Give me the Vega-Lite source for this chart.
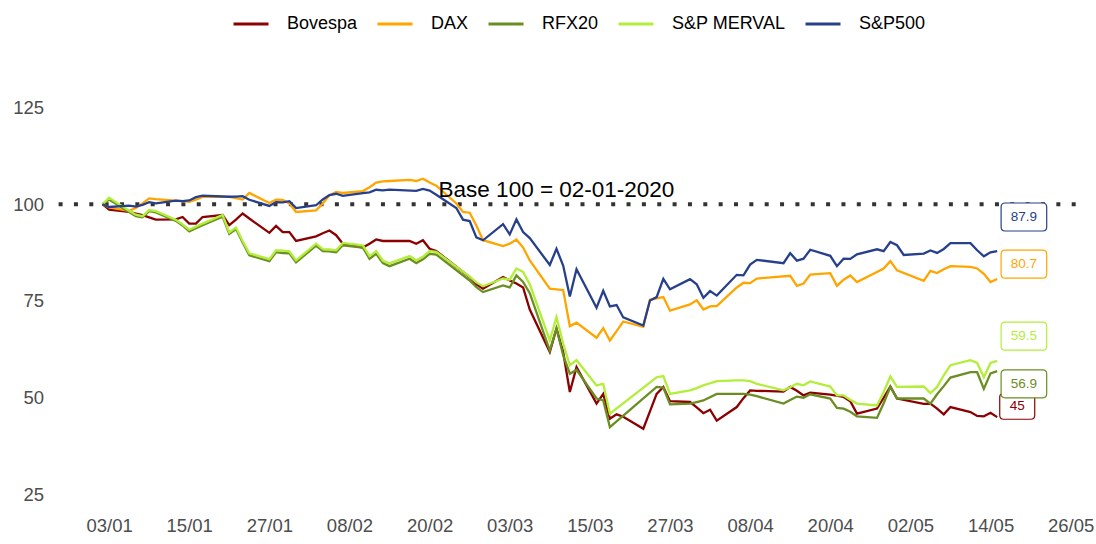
{
  "$schema": "https://vega.github.io/schema/vega-lite/v6.json",
  "width": 1035,
  "height": 449,
  "autosize": {"type": "none"},
  "padding": {"left": 49, "top": 61, "right": 12, "bottom": 34},
  "background": "white",
  "config": {
    "font": "Liberation Sans",
    "view": {"stroke": null},
    "axis": {"grid": false, "domain": false, "ticks": false, "tickSize": 0, "labelFont": "Liberation Sans", "labelFontSize": 18.5, "labelColor": "#4D4D4D", "title": null}
  },
  "datasets": {
    "series": [
      {"s":"Bovespa","d":"2020-01-02","v":100},{"s":"Bovespa","d":"2020-01-03","v":98.6},{"s":"Bovespa","d":"2020-01-06","v":98.0},{"s":"Bovespa","d":"2020-01-07","v":97.6},{"s":"Bovespa","d":"2020-01-08","v":97.2},{"s":"Bovespa","d":"2020-01-09","v":96.6},{"s":"Bovespa","d":"2020-01-10","v":96.0},{"s":"Bovespa","d":"2020-01-13","v":96.1},{"s":"Bovespa","d":"2020-01-14","v":96.7},{"s":"Bovespa","d":"2020-01-15","v":95.0},{"s":"Bovespa","d":"2020-01-16","v":95.0},{"s":"Bovespa","d":"2020-01-17","v":96.7},{"s":"Bovespa","d":"2020-01-20","v":97.2},{"s":"Bovespa","d":"2020-01-21","v":94.6},{"s":"Bovespa","d":"2020-01-22","v":96.0},{"s":"Bovespa","d":"2020-01-23","v":97.6},{"s":"Bovespa","d":"2020-01-24","v":96.3},{"s":"Bovespa","d":"2020-01-27","v":92.6},{"s":"Bovespa","d":"2020-01-28","v":94.4},{"s":"Bovespa","d":"2020-01-29","v":92.8},{"s":"Bovespa","d":"2020-01-30","v":92.8},{"s":"Bovespa","d":"2020-01-31","v":90.5},
      {"s":"Bovespa","d":"2020-02-03","v":91.7},{"s":"Bovespa","d":"2020-02-04","v":92.5},{"s":"Bovespa","d":"2020-02-05","v":93.2},{"s":"Bovespa","d":"2020-02-06","v":92.0},{"s":"Bovespa","d":"2020-02-07","v":89.8},{"s":"Bovespa","d":"2020-02-10","v":88.8},{"s":"Bovespa","d":"2020-02-11","v":89.8},{"s":"Bovespa","d":"2020-02-12","v":90.9},{"s":"Bovespa","d":"2020-02-13","v":90.5},{"s":"Bovespa","d":"2020-02-14","v":90.5},{"s":"Bovespa","d":"2020-02-17","v":90.5},{"s":"Bovespa","d":"2020-02-18","v":89.8},{"s":"Bovespa","d":"2020-02-19","v":90.7},{"s":"Bovespa","d":"2020-02-20","v":88.5},{"s":"Bovespa","d":"2020-02-21","v":87.9},{"s":"Bovespa","d":"2020-02-26","v":81.2},{"s":"Bovespa","d":"2020-02-27","v":79.3},{"s":"Bovespa","d":"2020-02-28","v":78.2},
      {"s":"Bovespa","d":"2020-03-02","v":81.2},{"s":"Bovespa","d":"2020-03-03","v":80.3},{"s":"Bovespa","d":"2020-03-04","v":79.5},{"s":"Bovespa","d":"2020-03-05","v":78.5},{"s":"Bovespa","d":"2020-03-06","v":72.8},{"s":"Bovespa","d":"2020-03-09","v":61.8},{"s":"Bovespa","d":"2020-03-10","v":67.9},{"s":"Bovespa","d":"2020-03-11","v":61.8},{"s":"Bovespa","d":"2020-03-12","v":51.5},{"s":"Bovespa","d":"2020-03-13","v":57.9},{"s":"Bovespa","d":"2020-03-16","v":48.5},{"s":"Bovespa","d":"2020-03-17","v":51.0},{"s":"Bovespa","d":"2020-03-18","v":44.6},{"s":"Bovespa","d":"2020-03-19","v":45.7},{"s":"Bovespa","d":"2020-03-20","v":45.1},{"s":"Bovespa","d":"2020-03-23","v":42.0},{"s":"Bovespa","d":"2020-03-24","v":46.5},{"s":"Bovespa","d":"2020-03-25","v":51.0},{"s":"Bovespa","d":"2020-03-26","v":52.8},{"s":"Bovespa","d":"2020-03-27","v":49.1},{"s":"Bovespa","d":"2020-03-30","v":48.9},{"s":"Bovespa","d":"2020-03-31","v":47.5},
      {"s":"Bovespa","d":"2020-04-01","v":46.0},{"s":"Bovespa","d":"2020-04-02","v":46.9},{"s":"Bovespa","d":"2020-04-03","v":44.1},{"s":"Bovespa","d":"2020-04-06","v":47.6},{"s":"Bovespa","d":"2020-04-07","v":49.9},{"s":"Bovespa","d":"2020-04-08","v":51.9},{"s":"Bovespa","d":"2020-04-09","v":51.8},{"s":"Bovespa","d":"2020-04-13","v":51.6},{"s":"Bovespa","d":"2020-04-14","v":52.8},{"s":"Bovespa","d":"2020-04-15","v":51.8},{"s":"Bovespa","d":"2020-04-16","v":50.6},{"s":"Bovespa","d":"2020-04-17","v":51.3},{"s":"Bovespa","d":"2020-04-20","v":50.8},{"s":"Bovespa","d":"2020-04-22","v":50.2},{"s":"Bovespa","d":"2020-04-23","v":49.1},{"s":"Bovespa","d":"2020-04-24","v":45.9},{"s":"Bovespa","d":"2020-04-27","v":47.2},{"s":"Bovespa","d":"2020-04-28","v":50.0},{"s":"Bovespa","d":"2020-04-29","v":52.9},{"s":"Bovespa","d":"2020-04-30","v":49.8},
      {"s":"Bovespa","d":"2020-05-04","v":48.4},{"s":"Bovespa","d":"2020-05-05","v":48.5},{"s":"Bovespa","d":"2020-05-06","v":47.2},{"s":"Bovespa","d":"2020-05-07","v":45.7},{"s":"Bovespa","d":"2020-05-08","v":47.6},{"s":"Bovespa","d":"2020-05-11","v":46.3},{"s":"Bovespa","d":"2020-05-12","v":45.3},{"s":"Bovespa","d":"2020-05-13","v":45.2},{"s":"Bovespa","d":"2020-05-14","v":46.1},{"s":"Bovespa","d":"2020-05-15","v":45.0},

      {"s":"DAX","d":"2020-01-02","v":100},{"s":"DAX","d":"2020-01-03","v":99.2},{"s":"DAX","d":"2020-01-06","v":98.3},{"s":"DAX","d":"2020-01-07","v":99.0},{"s":"DAX","d":"2020-01-08","v":100.2},{"s":"DAX","d":"2020-01-09","v":101.5},{"s":"DAX","d":"2020-01-10","v":101.3},{"s":"DAX","d":"2020-01-13","v":100.9},{"s":"DAX","d":"2020-01-14","v":100.8},{"s":"DAX","d":"2020-01-15","v":100.6},{"s":"DAX","d":"2020-01-16","v":101.2},{"s":"DAX","d":"2020-01-17","v":101.9},{"s":"DAX","d":"2020-01-20","v":101.9},{"s":"DAX","d":"2020-01-21","v":101.9},{"s":"DAX","d":"2020-01-22","v":101.6},{"s":"DAX","d":"2020-01-23","v":101.2},{"s":"DAX","d":"2020-01-24","v":102.9},{"s":"DAX","d":"2020-01-27","v":100.3},{"s":"DAX","d":"2020-01-28","v":101.2},{"s":"DAX","d":"2020-01-29","v":101.1},{"s":"DAX","d":"2020-01-30","v":100.2},{"s":"DAX","d":"2020-01-31","v":98.0},
      {"s":"DAX","d":"2020-02-03","v":98.4},{"s":"DAX","d":"2020-02-04","v":100.2},{"s":"DAX","d":"2020-02-05","v":102.3},{"s":"DAX","d":"2020-02-06","v":103.2},{"s":"DAX","d":"2020-02-07","v":102.9},{"s":"DAX","d":"2020-02-10","v":103.4},{"s":"DAX","d":"2020-02-11","v":104.4},{"s":"DAX","d":"2020-02-12","v":105.6},{"s":"DAX","d":"2020-02-13","v":105.9},{"s":"DAX","d":"2020-02-14","v":106.0},{"s":"DAX","d":"2020-02-17","v":106.3},{"s":"DAX","d":"2020-02-18","v":106.0},{"s":"DAX","d":"2020-02-19","v":106.6},{"s":"DAX","d":"2020-02-20","v":105.6},{"s":"DAX","d":"2020-02-21","v":104.8},{"s":"DAX","d":"2020-02-24","v":100.2},{"s":"DAX","d":"2020-02-25","v":98.0},{"s":"DAX","d":"2020-02-26","v":97.8},{"s":"DAX","d":"2020-02-27","v":94.5},{"s":"DAX","d":"2020-02-28","v":90.7},
      {"s":"DAX","d":"2020-03-02","v":89.2},{"s":"DAX","d":"2020-03-03","v":89.8},{"s":"DAX","d":"2020-03-04","v":90.9},{"s":"DAX","d":"2020-03-05","v":88.8},{"s":"DAX","d":"2020-03-06","v":85.5},{"s":"DAX","d":"2020-03-09","v":78.2},{"s":"DAX","d":"2020-03-10","v":78.0},{"s":"DAX","d":"2020-03-11","v":77.8},{"s":"DAX","d":"2020-03-12","v":68.5},{"s":"DAX","d":"2020-03-13","v":69.4},{"s":"DAX","d":"2020-03-16","v":65.5},{"s":"DAX","d":"2020-03-17","v":68.0},{"s":"DAX","d":"2020-03-18","v":64.8},{"s":"DAX","d":"2020-03-19","v":67.2},{"s":"DAX","d":"2020-03-20","v":69.7},{"s":"DAX","d":"2020-03-23","v":68.3},{"s":"DAX","d":"2020-03-24","v":75.3},{"s":"DAX","d":"2020-03-25","v":75.7},{"s":"DAX","d":"2020-03-26","v":76.0},{"s":"DAX","d":"2020-03-27","v":72.5},{"s":"DAX","d":"2020-03-30","v":74.1},{"s":"DAX","d":"2020-03-31","v":75.2},
      {"s":"DAX","d":"2020-04-01","v":72.8},{"s":"DAX","d":"2020-04-02","v":73.6},{"s":"DAX","d":"2020-04-03","v":73.7},{"s":"DAX","d":"2020-04-06","v":78.5},{"s":"DAX","d":"2020-04-07","v":79.7},{"s":"DAX","d":"2020-04-08","v":79.6},{"s":"DAX","d":"2020-04-09","v":80.8},{"s":"DAX","d":"2020-04-14","v":81.5},{"s":"DAX","d":"2020-04-15","v":78.9},{"s":"DAX","d":"2020-04-16","v":79.5},{"s":"DAX","d":"2020-04-17","v":81.8},{"s":"DAX","d":"2020-04-20","v":82.2},{"s":"DAX","d":"2020-04-21","v":78.9},{"s":"DAX","d":"2020-04-22","v":80.5},{"s":"DAX","d":"2020-04-23","v":81.6},{"s":"DAX","d":"2020-04-24","v":79.9},{"s":"DAX","d":"2020-04-27","v":82.5},{"s":"DAX","d":"2020-04-28","v":83.4},{"s":"DAX","d":"2020-04-29","v":85.3},{"s":"DAX","d":"2020-04-30","v":82.9},
      {"s":"DAX","d":"2020-05-04","v":80.2},{"s":"DAX","d":"2020-05-05","v":82.8},{"s":"DAX","d":"2020-05-06","v":82.2},{"s":"DAX","d":"2020-05-07","v":83.2},{"s":"DAX","d":"2020-05-08","v":84.0},{"s":"DAX","d":"2020-05-11","v":83.8},{"s":"DAX","d":"2020-05-12","v":83.4},{"s":"DAX","d":"2020-05-13","v":82.0},{"s":"DAX","d":"2020-05-14","v":79.9},{"s":"DAX","d":"2020-05-15","v":80.7},

      {"s":"RFX20","d":"2020-01-02","v":100},{"s":"RFX20","d":"2020-01-03","v":101.2},{"s":"RFX20","d":"2020-01-06","v":98.0},{"s":"RFX20","d":"2020-01-07","v":96.9},{"s":"RFX20","d":"2020-01-08","v":96.6},{"s":"RFX20","d":"2020-01-09","v":98.2},{"s":"RFX20","d":"2020-01-10","v":97.9},{"s":"RFX20","d":"2020-01-13","v":95.7},{"s":"RFX20","d":"2020-01-14","v":94.5},{"s":"RFX20","d":"2020-01-15","v":93.0},{"s":"RFX20","d":"2020-01-16","v":93.8},{"s":"RFX20","d":"2020-01-17","v":94.6},{"s":"RFX20","d":"2020-01-20","v":96.8},{"s":"RFX20","d":"2020-01-21","v":92.3},{"s":"RFX20","d":"2020-01-22","v":93.6},{"s":"RFX20","d":"2020-01-23","v":90.1},{"s":"RFX20","d":"2020-01-24","v":86.8},{"s":"RFX20","d":"2020-01-27","v":85.3},{"s":"RFX20","d":"2020-01-28","v":87.6},{"s":"RFX20","d":"2020-01-29","v":87.4},{"s":"RFX20","d":"2020-01-30","v":87.3},{"s":"RFX20","d":"2020-01-31","v":85.0},
      {"s":"RFX20","d":"2020-02-03","v":89.3},{"s":"RFX20","d":"2020-02-04","v":87.9},{"s":"RFX20","d":"2020-02-05","v":87.8},{"s":"RFX20","d":"2020-02-06","v":87.6},{"s":"RFX20","d":"2020-02-07","v":89.4},{"s":"RFX20","d":"2020-02-10","v":88.8},{"s":"RFX20","d":"2020-02-11","v":85.9},{"s":"RFX20","d":"2020-02-12","v":87.2},{"s":"RFX20","d":"2020-02-13","v":84.8},{"s":"RFX20","d":"2020-02-14","v":84.0},{"s":"RFX20","d":"2020-02-17","v":85.9},{"s":"RFX20","d":"2020-02-18","v":84.8},{"s":"RFX20","d":"2020-02-19","v":85.8},{"s":"RFX20","d":"2020-02-20","v":87.2},{"s":"RFX20","d":"2020-02-21","v":87.0},{"s":"RFX20","d":"2020-02-26","v":80.3},{"s":"RFX20","d":"2020-02-27","v":78.6},{"s":"RFX20","d":"2020-02-28","v":77.3},
      {"s":"RFX20","d":"2020-03-02","v":79.0},{"s":"RFX20","d":"2020-03-03","v":78.5},{"s":"RFX20","d":"2020-03-04","v":81.6},{"s":"RFX20","d":"2020-03-05","v":79.9},{"s":"RFX20","d":"2020-03-06","v":77.0},{"s":"RFX20","d":"2020-03-09","v":62.2},{"s":"RFX20","d":"2020-03-10","v":67.9},{"s":"RFX20","d":"2020-03-11","v":61.0},{"s":"RFX20","d":"2020-03-12","v":56.2},{"s":"RFX20","d":"2020-03-13","v":57.2},{"s":"RFX20","d":"2020-03-16","v":49.8},{"s":"RFX20","d":"2020-03-17","v":49.3},{"s":"RFX20","d":"2020-03-18","v":42.4},{"s":"RFX20","d":"2020-03-25","v":52.8},{"s":"RFX20","d":"2020-03-26","v":52.6},{"s":"RFX20","d":"2020-03-27","v":48.3},{"s":"RFX20","d":"2020-03-30","v":48.5},{"s":"RFX20","d":"2020-03-31","v":48.9},
      {"s":"RFX20","d":"2020-04-01","v":49.3},{"s":"RFX20","d":"2020-04-03","v":51.0},{"s":"RFX20","d":"2020-04-06","v":51.0},{"s":"RFX20","d":"2020-04-07","v":51.0},{"s":"RFX20","d":"2020-04-08","v":50.8},{"s":"RFX20","d":"2020-04-09","v":50.4},{"s":"RFX20","d":"2020-04-13","v":48.5},{"s":"RFX20","d":"2020-04-14","v":49.4},{"s":"RFX20","d":"2020-04-15","v":50.3},{"s":"RFX20","d":"2020-04-16","v":50.0},{"s":"RFX20","d":"2020-04-17","v":50.9},{"s":"RFX20","d":"2020-04-20","v":49.8},{"s":"RFX20","d":"2020-04-21","v":47.4},{"s":"RFX20","d":"2020-04-22","v":47.2},{"s":"RFX20","d":"2020-04-23","v":46.4},{"s":"RFX20","d":"2020-04-24","v":45.2},{"s":"RFX20","d":"2020-04-27","v":44.8},{"s":"RFX20","d":"2020-04-28","v":48.6},{"s":"RFX20","d":"2020-04-29","v":52.8},{"s":"RFX20","d":"2020-04-30","v":49.8},
      {"s":"RFX20","d":"2020-05-04","v":49.8},{"s":"RFX20","d":"2020-05-05","v":48.5},{"s":"RFX20","d":"2020-05-06","v":50.9},{"s":"RFX20","d":"2020-05-07","v":53.0},{"s":"RFX20","d":"2020-05-08","v":55.2},{"s":"RFX20","d":"2020-05-11","v":56.6},{"s":"RFX20","d":"2020-05-12","v":56.6},{"s":"RFX20","d":"2020-05-13","v":52.3},{"s":"RFX20","d":"2020-05-14","v":56.3},{"s":"RFX20","d":"2020-05-15","v":56.9},

      {"s":"S&P MERVAL","d":"2020-01-02","v":100},{"s":"S&P MERVAL","d":"2020-01-03","v":101.7},{"s":"S&P MERVAL","d":"2020-01-06","v":98.3},{"s":"S&P MERVAL","d":"2020-01-07","v":97.3},{"s":"S&P MERVAL","d":"2020-01-08","v":96.9},{"s":"S&P MERVAL","d":"2020-01-09","v":98.5},{"s":"S&P MERVAL","d":"2020-01-10","v":98.2},{"s":"S&P MERVAL","d":"2020-01-13","v":96.0},{"s":"S&P MERVAL","d":"2020-01-14","v":94.8},{"s":"S&P MERVAL","d":"2020-01-15","v":93.4},{"s":"S&P MERVAL","d":"2020-01-16","v":94.2},{"s":"S&P MERVAL","d":"2020-01-17","v":95.0},{"s":"S&P MERVAL","d":"2020-01-20","v":97.2},{"s":"S&P MERVAL","d":"2020-01-21","v":92.7},{"s":"S&P MERVAL","d":"2020-01-22","v":94.0},{"s":"S&P MERVAL","d":"2020-01-23","v":90.5},{"s":"S&P MERVAL","d":"2020-01-24","v":87.3},{"s":"S&P MERVAL","d":"2020-01-27","v":85.8},{"s":"S&P MERVAL","d":"2020-01-28","v":88.1},{"s":"S&P MERVAL","d":"2020-01-29","v":88.0},{"s":"S&P MERVAL","d":"2020-01-30","v":87.8},{"s":"S&P MERVAL","d":"2020-01-31","v":85.5},
      {"s":"S&P MERVAL","d":"2020-02-03","v":89.8},{"s":"S&P MERVAL","d":"2020-02-04","v":88.4},{"s":"S&P MERVAL","d":"2020-02-05","v":88.3},{"s":"S&P MERVAL","d":"2020-02-06","v":88.1},{"s":"S&P MERVAL","d":"2020-02-07","v":90.0},{"s":"S&P MERVAL","d":"2020-02-10","v":89.4},{"s":"S&P MERVAL","d":"2020-02-11","v":86.6},{"s":"S&P MERVAL","d":"2020-02-12","v":87.9},{"s":"S&P MERVAL","d":"2020-02-13","v":85.4},{"s":"S&P MERVAL","d":"2020-02-14","v":84.7},{"s":"S&P MERVAL","d":"2020-02-17","v":86.6},{"s":"S&P MERVAL","d":"2020-02-18","v":85.5},{"s":"S&P MERVAL","d":"2020-02-19","v":86.4},{"s":"S&P MERVAL","d":"2020-02-20","v":87.9},{"s":"S&P MERVAL","d":"2020-02-21","v":87.7},{"s":"S&P MERVAL","d":"2020-02-26","v":81.3},{"s":"S&P MERVAL","d":"2020-02-27","v":79.8},{"s":"S&P MERVAL","d":"2020-02-28","v":78.8},
      {"s":"S&P MERVAL","d":"2020-03-02","v":80.8},{"s":"S&P MERVAL","d":"2020-03-03","v":80.5},{"s":"S&P MERVAL","d":"2020-03-04","v":83.4},{"s":"S&P MERVAL","d":"2020-03-05","v":82.5},{"s":"S&P MERVAL","d":"2020-03-06","v":79.3},{"s":"S&P MERVAL","d":"2020-03-09","v":64.8},{"s":"S&P MERVAL","d":"2020-03-10","v":70.9},{"s":"S&P MERVAL","d":"2020-03-11","v":64.0},{"s":"S&P MERVAL","d":"2020-03-12","v":58.4},{"s":"S&P MERVAL","d":"2020-03-13","v":59.7},{"s":"S&P MERVAL","d":"2020-03-16","v":53.2},{"s":"S&P MERVAL","d":"2020-03-17","v":53.6},{"s":"S&P MERVAL","d":"2020-03-18","v":45.9},{"s":"S&P MERVAL","d":"2020-03-25","v":55.3},{"s":"S&P MERVAL","d":"2020-03-26","v":55.6},{"s":"S&P MERVAL","d":"2020-03-27","v":51.0},{"s":"S&P MERVAL","d":"2020-03-30","v":51.9},{"s":"S&P MERVAL","d":"2020-03-31","v":52.5},
      {"s":"S&P MERVAL","d":"2020-04-01","v":53.2},{"s":"S&P MERVAL","d":"2020-04-03","v":54.3},{"s":"S&P MERVAL","d":"2020-04-06","v":54.5},{"s":"S&P MERVAL","d":"2020-04-07","v":54.5},{"s":"S&P MERVAL","d":"2020-04-08","v":54.3},{"s":"S&P MERVAL","d":"2020-04-09","v":53.6},{"s":"S&P MERVAL","d":"2020-04-13","v":51.9},{"s":"S&P MERVAL","d":"2020-04-14","v":52.7},{"s":"S&P MERVAL","d":"2020-04-15","v":53.6},{"s":"S&P MERVAL","d":"2020-04-16","v":53.2},{"s":"S&P MERVAL","d":"2020-04-17","v":54.2},{"s":"S&P MERVAL","d":"2020-04-20","v":52.9},{"s":"S&P MERVAL","d":"2020-04-21","v":50.6},{"s":"S&P MERVAL","d":"2020-04-22","v":50.6},{"s":"S&P MERVAL","d":"2020-04-23","v":49.5},{"s":"S&P MERVAL","d":"2020-04-24","v":48.5},{"s":"S&P MERVAL","d":"2020-04-27","v":48.0},{"s":"S&P MERVAL","d":"2020-04-28","v":51.5},{"s":"S&P MERVAL","d":"2020-04-29","v":55.5},{"s":"S&P MERVAL","d":"2020-04-30","v":52.8},
      {"s":"S&P MERVAL","d":"2020-05-04","v":52.9},{"s":"S&P MERVAL","d":"2020-05-05","v":51.2},{"s":"S&P MERVAL","d":"2020-05-06","v":52.8},{"s":"S&P MERVAL","d":"2020-05-07","v":55.8},{"s":"S&P MERVAL","d":"2020-05-08","v":58.4},{"s":"S&P MERVAL","d":"2020-05-11","v":59.7},{"s":"S&P MERVAL","d":"2020-05-12","v":59.0},{"s":"S&P MERVAL","d":"2020-05-13","v":55.3},{"s":"S&P MERVAL","d":"2020-05-14","v":59.0},{"s":"S&P MERVAL","d":"2020-05-15","v":59.5},

      {"s":"S&P500","d":"2020-01-02","v":100},{"s":"S&P500","d":"2020-01-03","v":99.29},{"s":"S&P500","d":"2020-01-06","v":99.65},{"s":"S&P500","d":"2020-01-07","v":99.37},{"s":"S&P500","d":"2020-01-08","v":99.85},{"s":"S&P500","d":"2020-01-09","v":100.52},{"s":"S&P500","d":"2020-01-10","v":100.23},{"s":"S&P500","d":"2020-01-13","v":100.93},{"s":"S&P500","d":"2020-01-14","v":100.78},{"s":"S&P500","d":"2020-01-15","v":100.97},{"s":"S&P500","d":"2020-01-16","v":101.81},{"s":"S&P500","d":"2020-01-17","v":102.2},{"s":"S&P500","d":"2020-01-21","v":101.93},{"s":"S&P500","d":"2020-01-22","v":101.96},{"s":"S&P500","d":"2020-01-23","v":102.08},{"s":"S&P500","d":"2020-01-24","v":101.15},{"s":"S&P500","d":"2020-01-27","v":99.56},{"s":"S&P500","d":"2020-01-28","v":100.56},{"s":"S&P500","d":"2020-01-29","v":100.48},{"s":"S&P500","d":"2020-01-30","v":100.79},{"s":"S&P500","d":"2020-01-31","v":99.01},
      {"s":"S&P500","d":"2020-02-03","v":99.73},{"s":"S&P500","d":"2020-02-04","v":101.22},{"s":"S&P500","d":"2020-02-05","v":102.36},{"s":"S&P500","d":"2020-02-06","v":102.7},{"s":"S&P500","d":"2020-02-07","v":102.14},{"s":"S&P500","d":"2020-02-10","v":102.89},{"s":"S&P500","d":"2020-02-11","v":103.07},{"s":"S&P500","d":"2020-02-12","v":103.73},{"s":"S&P500","d":"2020-02-13","v":103.56},{"s":"S&P500","d":"2020-02-14","v":103.75},{"s":"S&P500","d":"2020-02-18","v":103.45},{"s":"S&P500","d":"2020-02-19","v":103.94},{"s":"S&P500","d":"2020-02-20","v":103.54},{"s":"S&P500","d":"2020-02-21","v":102.45},{"s":"S&P500","d":"2020-02-24","v":99.02},{"s":"S&P500","d":"2020-02-25","v":96.02},{"s":"S&P500","d":"2020-02-26","v":95.66},{"s":"S&P500","d":"2020-02-27","v":91.43},{"s":"S&P500","d":"2020-02-28","v":90.68},
      {"s":"S&P500","d":"2020-03-02","v":94.86},{"s":"S&P500","d":"2020-03-03","v":92.19},{"s":"S&P500","d":"2020-03-04","v":96.08},{"s":"S&P500","d":"2020-03-05","v":92.82},{"s":"S&P500","d":"2020-03-06","v":91.24},{"s":"S&P500","d":"2020-03-09","v":84.31},{"s":"S&P500","d":"2020-03-10","v":88.47},{"s":"S&P500","d":"2020-03-11","v":84.15},{"s":"S&P500","d":"2020-03-12","v":76.14},{"s":"S&P500","d":"2020-03-13","v":83.22},{"s":"S&P500","d":"2020-03-16","v":73.24},{"s":"S&P500","d":"2020-03-17","v":77.63},{"s":"S&P500","d":"2020-03-18","v":73.61},{"s":"S&P500","d":"2020-03-19","v":73.96},{"s":"S&P500","d":"2020-03-20","v":70.75},{"s":"S&P500","d":"2020-03-23","v":68.68},{"s":"S&P500","d":"2020-03-24","v":75.12},{"s":"S&P500","d":"2020-03-25","v":75.99},{"s":"S&P500","d":"2020-03-26","v":80.73},{"s":"S&P500","d":"2020-03-27","v":78.01},{"s":"S&P500","d":"2020-03-30","v":80.63},{"s":"S&P500","d":"2020-03-31","v":79.33},
      {"s":"S&P500","d":"2020-04-01","v":75.83},{"s":"S&P500","d":"2020-04-02","v":77.56},{"s":"S&P500","d":"2020-04-03","v":76.39},{"s":"S&P500","d":"2020-04-06","v":81.76},{"s":"S&P500","d":"2020-04-07","v":81.63},{"s":"S&P500","d":"2020-04-08","v":84.41},{"s":"S&P500","d":"2020-04-09","v":85.63},{"s":"S&P500","d":"2020-04-13","v":84.77},{"s":"S&P500","d":"2020-04-14","v":87.36},{"s":"S&P500","d":"2020-04-15","v":85.44},{"s":"S&P500","d":"2020-04-16","v":85.93},{"s":"S&P500","d":"2020-04-17","v":88.24},{"s":"S&P500","d":"2020-04-20","v":86.66},{"s":"S&P500","d":"2020-04-21","v":84.0},{"s":"S&P500","d":"2020-04-22","v":85.93},{"s":"S&P500","d":"2020-04-23","v":85.88},{"s":"S&P500","d":"2020-04-24","v":87.07},{"s":"S&P500","d":"2020-04-27","v":88.36},{"s":"S&P500","d":"2020-04-28","v":87.89},{"s":"S&P500","d":"2020-04-29","v":90.23},{"s":"S&P500","d":"2020-04-30","v":89.4},
      {"s":"S&P500","d":"2020-05-01","v":86.89},{"s":"S&P500","d":"2020-05-04","v":87.26},{"s":"S&P500","d":"2020-05-05","v":88.05},{"s":"S&P500","d":"2020-05-06","v":87.43},{"s":"S&P500","d":"2020-05-07","v":88.44},{"s":"S&P500","d":"2020-05-08","v":89.93},{"s":"S&P500","d":"2020-05-11","v":89.94},{"s":"S&P500","d":"2020-05-12","v":88.1},{"s":"S&P500","d":"2020-05-13","v":86.56},{"s":"S&P500","d":"2020-05-14","v":87.56},{"s":"S&P500","d":"2020-05-15","v":87.9}
    ],
    "labels": [
      {"s":"Bovespa","d":"2020-05-18","v":47.8,"t":"45"},
      {"s":"DAX","d":"2020-05-19","v":84.5,"t":"80.7"},
      {"s":"S&P MERVAL","d":"2020-05-19","v":65.9,"t":"59.5"},
      {"s":"RFX20","d":"2020-05-19","v":53.6,"t":"56.9"},
      {"s":"S&P500","d":"2020-05-19","v":96.7,"t":"87.9"}
    ],
    "notes": [
      {"d":"2020-03-10","v":101.9,"t":"Base 100 = 02-01-2020"}
    ],
    "base": [{"v":100}]
  },
  "layer": [
    {
      "data": {"name": "base"},
      "mark": {"type": "rule", "color": "#333333", "strokeWidth": 4, "strokeDash": [4, 11.35], "strokeDashOffset": 7.05},
      "encoding": {
        "y": {"field": "v", "type": "quantitative", "scale": {"domain": [21, 137], "nice": false, "zero": false}, "axis": {"values": [25, 50, 75, 100, 125], "labelPadding": 5.5}}
      }
    },
    {
      "data": {"name": "series"},
      "mark": {"type": "line", "strokeWidth": 2.3},
      "encoding": {
        "x": {"field": "d", "type": "temporal", "scale": {"type": "utc", "domain": [{"year": 2019, "month": 12, "date": 25, "utc": true}, {"year": 2020, "month": 5, "date": 28, "utc": true}]},
              "axis": {"format": "%d/%m", "labelPadding": 6, "labelOverlap": false, "labelFlush": false, "labelBound": false,
                       "values": [{"year":2020,"month":1,"date":3,"utc":true},{"year":2020,"month":1,"date":15,"utc":true},{"year":2020,"month":1,"date":27,"utc":true},{"year":2020,"month":2,"date":8,"utc":true},{"year":2020,"month":2,"date":20,"utc":true},{"year":2020,"month":3,"date":3,"utc":true},{"year":2020,"month":3,"date":15,"utc":true},{"year":2020,"month":3,"date":27,"utc":true},{"year":2020,"month":4,"date":8,"utc":true},{"year":2020,"month":4,"date":20,"utc":true},{"year":2020,"month":5,"date":2,"utc":true},{"year":2020,"month":5,"date":14,"utc":true},{"year":2020,"month":5,"date":26,"utc":true}]}},
        "y": {"field": "v", "type": "quantitative", "scale": {"domain": [21, 137], "nice": false, "zero": false}, "axis": {"values": [25, 50, 75, 100, 125], "labelPadding": 5.5}},
        "color": {"field": "s", "type": "nominal",
                  "scale": {"domain": ["Bovespa", "DAX", "RFX20", "S&P MERVAL", "S&P500"], "range": ["#8B0000", "#FFA500", "#6B8E23", "#B3EE3A", "#27408B"]},
                  "legend": {"title": null, "orient": "none", "legendX": 183, "legendY": -56, "direction": "horizontal", "symbolType": "stroke", "symbolSize": 1225, "symbolStrokeWidth": 3, "labelFontSize": 18, "labelFont": "Liberation Sans", "labelColor": "black", "labelOffset": 17, "columnPadding": 13, "padding": 0}}
      }
    },
    {
      "data": {"name": "notes"},
      "mark": {"type": "text", "fontSize": 22.5, "color": "black", "align": "center", "baseline": "alphabetic"},
      "encoding": {
        "x": {"field": "d", "type": "temporal", "scale": {"type": "utc", "domain": [{"year": 2019, "month": 12, "date": 25, "utc": true}, {"year": 2020, "month": 5, "date": 28, "utc": true}]}},
        "y": {"field": "v", "type": "quantitative", "scale": {"domain": [21, 137], "nice": false, "zero": false}},
        "text": {"field": "t"}
      }
    },
    {
      "data": {"name": "labels"},
      "mark": {"type": "point", "filled": true, "fill": "white", "opacity": 1, "strokeWidth": 1.2},
      "encoding": {
        "x": {"field": "d", "type": "temporal", "scale": {"type": "utc", "domain": [{"year": 2019, "month": 12, "date": 25, "utc": true}, {"year": 2020, "month": 5, "date": 28, "utc": true}]}},
        "y": {"field": "v", "type": "quantitative", "scale": {"domain": [21, 137], "nice": false, "zero": false}},
        "stroke": {"field": "s", "type": "nominal", "legend": null,
                   "scale": {"domain": ["Bovespa", "DAX", "RFX20", "S&P MERVAL", "S&P500"], "range": ["#8B0000", "#FFA500", "#6B8E23", "#B3EE3A", "#27408B"]}},
        "shape": {"condition": {"test": "datum.s === 'Bovespa'", "value": "M-0.771,-0.743L0.771,-0.743Q1,-0.743 1,-0.514L1,0.514Q1,0.743 0.771,0.743L-0.771,0.743Q-1,0.743 -1,0.514L-1,-0.514Q-1,-0.743 -0.771,-0.743Z"},
                  "value": "M-0.825,-0.614L0.825,-0.614Q1,-0.614 1,-0.439L1,0.439Q1,0.614 0.825,0.614L-0.825,0.614Q-1,0.614 -1,0.439L-1,-0.439Q-1,-0.614 -0.825,-0.614Z"},
        "size": {"condition": {"test": "datum.s === 'Bovespa'", "value": 1225}, "value": 2079}
      }
    },
    {
      "data": {"name": "labels"},
      "mark": {"type": "text", "fontSize": 13.5, "align": "center", "baseline": "middle"},
      "encoding": {
        "x": {"field": "d", "type": "temporal", "scale": {"type": "utc", "domain": [{"year": 2019, "month": 12, "date": 25, "utc": true}, {"year": 2020, "month": 5, "date": 28, "utc": true}]}},
        "y": {"field": "v", "type": "quantitative", "scale": {"domain": [21, 137], "nice": false, "zero": false}},
        "text": {"field": "t"},
        "fill": {"field": "s", "type": "nominal", "legend": null,
                 "scale": {"domain": ["Bovespa", "DAX", "RFX20", "S&P MERVAL", "S&P500"], "range": ["#8B0000", "#FFA500", "#6B8E23", "#B3EE3A", "#27408B"]}}
      }
    }
  ]
}
